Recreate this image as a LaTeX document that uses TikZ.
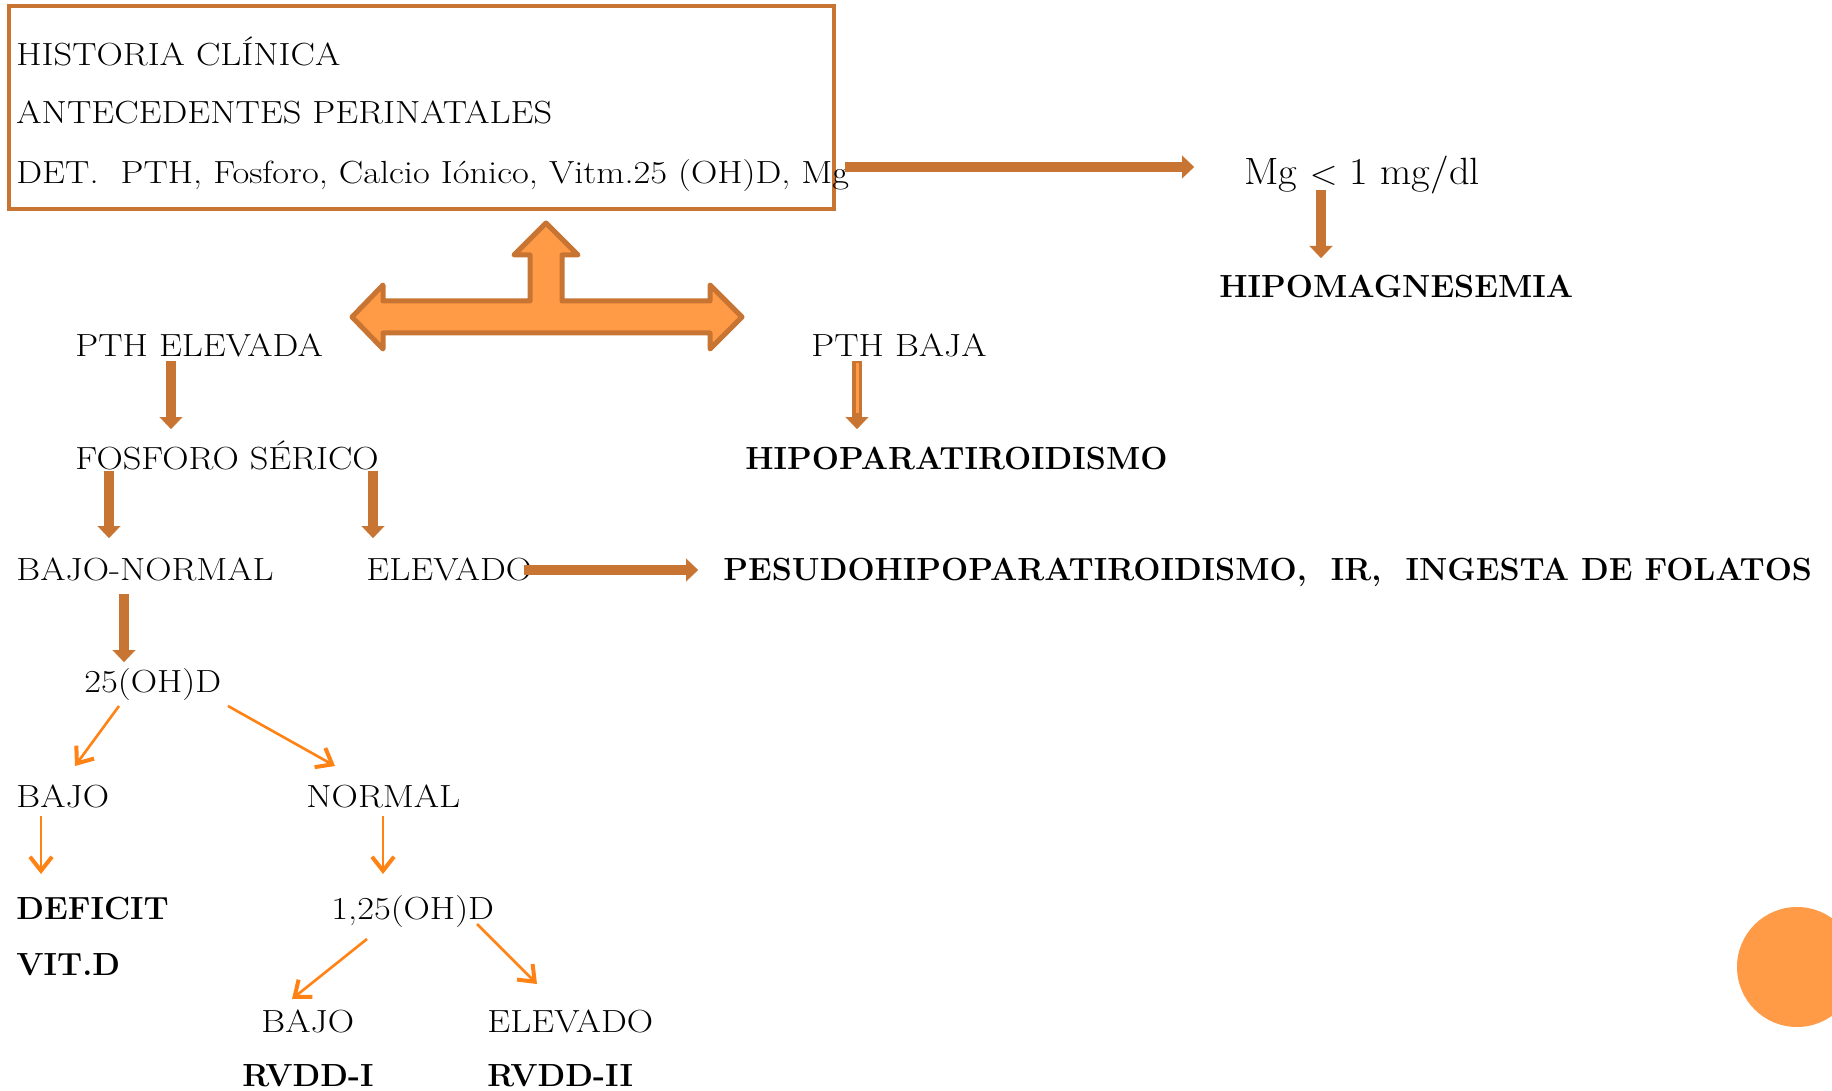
\documentclass[tikz,border=0pt]{standalone}
\usetikzlibrary{arrows.meta,calc}
\definecolor{brn}{RGB}{200,117,51}
\definecolor{lor}{RGB}{255,154,70}
\definecolor{org}{RGB}{255,130,20}
\begin{document}
\begin{tikzpicture}[x=0.5pt,y=-0.5pt,
  txt/.style={anchor=base west, inner sep=0pt, xscale=1.14, font=\fontsize{16}{19}\selectfont},
  btxt/.style={anchor=base west, inner sep=0pt, xscale=1.005, font=\fontsize{16}{19}\selectfont\bfseries},
  bigtxt/.style={anchor=base west, inner sep=0pt, xscale=1.065, font=\fontsize{19}{23}\selectfont},
  thk/.style={draw=brn, line width=5pt, -{Triangle[length=6pt,width=11.5pt,line width=0.1pt]}},
  thn/.style={draw=org, line width=1.3pt, -{Straight Barb[length=7pt,width=11pt,line width=2pt]}}]
\clip (0,0) rectangle (1832,1091);
\fill[white] (0,0) rectangle (1832,1091);
% top box
\draw[brn, line width=2pt] (9,6) rectangle (834,209);
\node[txt] (h1) at (16,66) {HISTORIA CLÍNICA};
\node[txt] (h2) at (16,124) {ANTECEDENTES PERINATALES};
\node[txt] (h3) at (16,184) {DET.\ \ PTH, Fosforo, Calcio Iónico, Vitm.25 (OH)D, Mg};
% magnesium branch
\node[bigtxt] (mg) at (1244,185) {Mg $<$ 1 mg/dl};
\node[btxt] (hipomag) at (1219,298) {HIPOMAGNESEMIA};
% big three-way arrow
\draw[brn, fill=lor, line width=2.5pt, line join=round]
  (352,317) -- (383,285) -- (383,301) -- (530,301) -- (530,255) -- (514,255)
  -- (546,223) -- (578,255) -- (562,255) -- (562,301) -- (710,301) -- (710,285)
  -- (742,317) -- (710,349) -- (710,333) -- (383,333) -- (383,349) -- cycle;
% labels
\node[txt] (pthE) at (75,357) {PTH ELEVADA};
\node[txt] (pthB) at (811,357) {PTH BAJA};
\node[txt] (fos) at (75,469) {FOSFORO SÉRICO};
\node[btxt] (hipopara) at (745,469) {HIPOPARATIROIDISMO};
\node[txt] (bn) at (16,580) {BAJO-NORMAL};
\node[txt] (elev) at (366,580) {ELEVADO};
\node[btxt] (pseudo) at (723,580) {PESUDOHIPOPARATIROIDISMO,\ \ IR,\ \ INGESTA DE FOLATOS};
\node[txt] (d25) at (84,692) {25(OH)D};
\node[txt] (bajo1) at (16,807) {BAJO};
\node[txt] (normal) at (306,807) {NORMAL};
\node[btxt] (def) at (16,919) {DEFICIT};
\node[btxt] (vitd) at (16,975) {VIT.D};
\node[txt] (d125) at (331,919) {1,25(OH)D};
\node[txt] (bajo2) at (261,1032) {BAJO};
\node[txt] (elev2) at (487,1032) {ELEVADO};
\node[btxt] (rv1) at (242,1086) {RVDD-I};
\node[btxt] (rv2) at (487,1086) {RVDD-II};
% thick connectors
\draw[thk] ($(h3.base west)+(829,-17)$) -- ($(mg.base west)+(-50,-18)$);
\draw[thk] ($(mg.base west)+(77,5)$) -- ($(hipomag.base west)+(102,-40)$);
\draw[thk] ($(pthE.base west)+(96,4)$) -- ($(fos.base west)+(96,-40)$);
\draw[thk] ($(pthB.base west)+(46,4)$) -- ($(hipopara.base west)+(112,-40)$);
\draw[lor, line width=1.5pt] ($(pthB.base west)+(46,6)$) -- ($(hipopara.base west)+(112,-56)$);
\draw[thk] ($(fos.base west)+(34,2)$) -- ($(bn.base west)+(93,-42)$);
\draw[thk] ($(fos.base west)+(298,2)$) -- ($(elev.base west)+(7,-42)$);
\draw[thk] ($(elev.base west)+(158,-10)$) -- ($(pseudo.base west)+(-25,-10)$);
\draw[thk] ($(bn.base west)+(108,14)$) -- ($(d25.base west)+(40,-30)$);
% thin connectors
\draw[thn] ($(d25.base west)+(35,14)$) -- ($(bajo1.base west)+(59,-41)$);
\draw[thn] ($(d25.base west)+(144,14)$) -- ($(normal.base west)+(29,-41)$);
\draw[thn] ($(bajo1.base west)+(25,9)$) -- ($(def.base west)+(25,-45)$);
\draw[thn] ($(normal.base west)+(77,9)$) -- ($(d125.base west)+(52,-45)$);
\draw[thn] ($(d125.base west)+(36,20)$) -- ($(bajo2.base west)+(31,-33)$);
\draw[thn] ($(d125.base west)+(146,5)$) -- ($(elev2.base west)+(50,-48)$);
% decorative circle
\fill[lor] (1797,967) circle (60);
\end{tikzpicture}
\end{document}
